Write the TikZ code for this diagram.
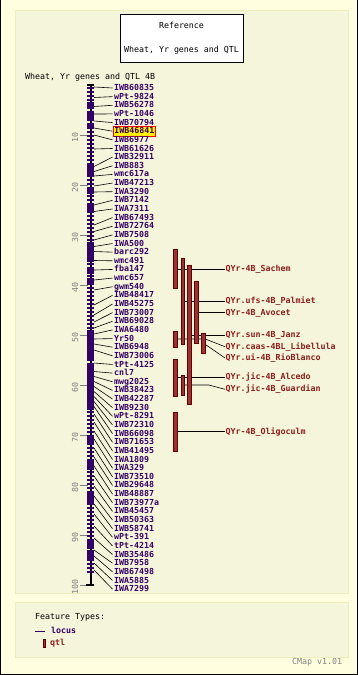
\documentclass[tikz,border=0pt]{standalone}
\usepackage{fontspec}
\usepackage{tikz}
\usetikzlibrary{positioning}
\newfontfamily\cmapmono{DejaVu Sans Mono}
\newcommand{\cmapfont}{\cmapmono\fontsize{8.3}{10}\selectfont}
\newcommand{\cmaplabelfont}{\cmapmono\bfseries\fontsize{8.3}{10}\selectfont}
\definecolor{cmpurple}{RGB}{51,0,102}
\definecolor{cmqtl}{RGB}{153,51,51}
\definecolor{cmqtledge}{RGB}{102,0,0}
\definecolor{cmqtltext}{RGB}{140,30,30}
\definecolor{cmouter}{RGB}{255,255,224}
\definecolor{cmpanel}{RGB}{245,245,220}
\definecolor{cmpanelline}{RGB}{238,238,187}
\definecolor{cmgrey}{RGB}{128,128,128}
\tikzstyle{panel} = [fill=cmpanel, draw=cmpanelline, line width=1pt]
\tikzstyle{titlebox} = [rectangle, fill=white, draw=black, line width=1pt, minimum width=123pt, minimum height=48pt, align=center, font=\cmapfont]
\tikzstyle{locuslabel} = [anchor=west, inner sep=1.5pt, text height=6.1pt, text depth=1pt, text=cmpurple, font=\cmaplabelfont]
\tikzstyle{hilabel} = [locuslabel, fill=yellow, draw=red, line width=0.9pt]
\tikzstyle{locustick} = [cmpurple, line width=1.5pt]
\tikzstyle{link} = [black, line width=0.6pt]
\tikzstyle{qtlbar} = [rectangle, fill=cmqtl, draw=cmqtledge, line width=0.5pt, minimum width=3.5pt, inner sep=0pt]
\tikzstyle{qtllabel} = [anchor=west, inner sep=0.5pt, text height=6.1pt, text depth=1pt, text=cmqtltext, font=\cmaplabelfont]
\pgfdeclarelayer{bg}
\pgfdeclarelayer{links}
\pgfsetlayers{bg,links,main}
\begin{document}
\begin{tikzpicture}[x=1pt, y=-1pt]
\useasboundingbox (0,0) rectangle (358,675);
% Background
\begin{pgfonlayer}{bg}
\fill[cmouter] (0,0) rectangle (358,675);
\draw[black, line width=1pt] (0.5,0) -- (0.5,674.5) -- (357.5,674.5) -- (357.5,0);
\draw[panel] (15,10) rectangle (348,593);
\draw[panel] (15,602) rectangle (348,657);
\end{pgfonlayer}

% Titles
\node[titlebox] (ref) at (181.5,38) {Reference\\[14pt]Wheat, Yr genes and QTL};
\node[anchor=west, inner sep=0pt, font=\cmapfont] (maptitle) at (25,77) {Wheat, Yr genes and QTL 4B};

% Scale
\foreach \s in {10,20,...,100} {
  \draw[cmgrey, line width=0.8pt] (80,{85+5*\s}) -- (88,{85+5*\s});
  \node[rotate=90, text=cmgrey, font=\cmapfont, inner sep=0pt] (sc\s) at (75,{87+5*\s}) {\s};
}

% Chromosome
\draw[black, line width=2pt] (90.5,85) -- (90.5,585);
\draw[black, line width=1.4pt] (87,85) -- (94,85);
\draw[black, line width=1.4pt] (86,585) -- (94,585);
\foreach \t in {0.6,1.4,...,97.4}
  \draw[locustick] (87,{85+5*\t}) -- (94,{85+5*\t});
\foreach \a/\b in {3.4/4.6, 5.4/6.8, 7.6/8.4, 16/18.4, 20.4/21.8, 24/25.4, 31.4/35.4, 36.6/37.8, 38.6/39.6, 49/55.2, 55.9/65, 70.4/71.6, 75/77, 81.6/84, 91/92.4, 93/95}
  \fill[cmpurple] (87,{85+5*\a}) rectangle (94,{85+5*\b});

% Loci
\foreach \lab/\pos/\sty [count=\i] in {IWB60835/0.4/locuslabel, wPt-9824/2.5/locuslabel, IWB56278/4.3/locuslabel, wPt-1046/5.8/locuslabel, IWB70794/7.2/locuslabel, IWB46841/8.6/hilabel, IWB6977/10/locuslabel, IWB61626/12.8/locuslabel, IWB32911/16.3/locuslabel, IWB883/17.3/locuslabel, wmc617a/18.2/locuslabel, IWB47213/20.2/locuslabel, IWA3290/21.4/locuslabel, IWB7142/24/locuslabel, IWA7311/25.3/locuslabel, IWB67493/28/locuslabel, IWB72764/29.3/locuslabel, IWB7508/31/locuslabel, IWA500/32.3/locuslabel, barc292/33.3/locuslabel, wmc491/35.1/locuslabel, fba147/37/locuslabel, wmc657/39/locuslabel, gwm540/41/locuslabel, IWB48417/44/locuslabel, IWB45275/46/locuslabel, IWB73007/47.4/locuslabel, IWB69028/48.6/locuslabel, IWA6480/49.8/locuslabel, Yr50/50.8/locuslabel, IWB6948/51.8/locuslabel, IWB73006/53/locuslabel, tPt-4125/55.6/locuslabel, cnl7/57.3/locuslabel, mwg2025/58.3/locuslabel, IWB38423/59.3/locuslabel, IWB42287/60.3/locuslabel, IWB9230/61.3/locuslabel, wPt-8291/62.3/locuslabel, IWB72310/63.3/locuslabel, IWB66098/64.3/locuslabel, IWB71653/65.8/locuslabel, IWB41495/67.4/locuslabel, IWA1809/69.2/locuslabel, IWA329/70.8/locuslabel, IWB73510/72.6/locuslabel, IWB29648/74.4/locuslabel, IWB48887/76.2/locuslabel, IWB73977a/78.2/locuslabel, IWB45457/80.2/locuslabel, IWB50363/82.2/locuslabel, IWB58741/83.8/locuslabel, wPt-391/85.8/locuslabel, tPt-4214/88.2/locuslabel, IWB35486/90.6/locuslabel, IWB7958/93/locuslabel, IWB67498/94.2/locuslabel, IWA5885/95.6/locuslabel, IWA7299/97/locuslabel} {
  \coordinate (l\i) at (94,{85+5*\pos});
  \node[\sty] (m\i) at (112.5,{88+8.64*(\i-1)}) {\lab};
  \draw[link] (l\i) -- (m\i.west);
}

% QTL bars
\node[qtlbar, minimum height=39pt] (b1) at (175,269) {};
\node[qtlbar, minimum height=86pt] (b2) at (182.8,301) {};
\node[qtlbar, minimum height=139pt] (b3) at (189,335) {};
\node[qtlbar, minimum height=62pt] (b4) at (196,312.7) {};
\node[qtlbar, minimum height=20pt] (b5) at (203.3,343) {};
\node[qtlbar, minimum height=16pt] (b6) at (175,339) {};
\node[qtlbar, minimum height=37pt] (b7) at (175,377.3) {};
\node[qtlbar, minimum height=20pt] (b8) at (182.8,385) {};
\node[qtlbar, minimum height=39pt] (b9) at (175,431.7) {};

% QTL labels
\node[qtllabel] (tsachem) at (225,269) {QYr-4B\_Sachem};
\node[qtllabel] (tpalmiet) at (225,301) {QYr.ufs-4B\_Palmiet};
\node[qtllabel] (tavocet) at (225,312.7) {QYr-4B\_Avocet};
\node[qtllabel] (tjanz) at (225,335) {QYr.sun-4B\_Janz};
\node[qtllabel] (tlib) at (225,346.7) {QYr.caas-4BL\_Libellula};
\node[qtllabel] (trio) at (225,358) {QYr.ui-4B\_RioBlanco};
\node[qtllabel] (talcedo) at (225,377.3) {QYr.jic-4B\_Alcedo};
\node[qtllabel] (tguard) at (225,389.3) {QYr.jic-4B\_Guardian};
\node[qtllabel] (toligo) at (225,431.7) {QYr-4B\_Oligoculm};

\begin{pgfonlayer}{links}
\draw[link] (b1.center) -- (tsachem.west);
\draw[link] (b2.center) -- (tpalmiet.west);
\draw[link] (b4.center) -- (tavocet.west);
\draw[link] (b3.center) -- (tjanz.west);
\draw[link] (b6.center) -- (b6.center -| b5.east) -- (tlib.west);
\draw[link] (b5.center) -- (trio.west);
\draw[link] (b7.center) -- (talcedo.west);
\draw[link] (b8.center) -- ++(26,0) -- (tguard.west);
\draw[link] (b9.center) -- (toligo.west);
\end{pgfonlayer}

% Legend
\node[anchor=west, inner sep=0pt, font=\cmapfont] (ftypes) at (35,617) {Feature Types:};
\node[locuslabel] (klocus) at (49.5,631) {locus};
\draw[cmpurple, line width=0.9pt] ([xshift=-14.5pt]klocus.west) -- ([xshift=-4.5pt]klocus.west);
\node[qtlbar, minimum height=8pt, minimum width=2.5pt] (kbar) at (44,643) {};
\node[qtllabel] (kqtl) at (49.5,643) {qtl};
\node[anchor=west, inner sep=0pt, text=cmgrey, font=\cmapfont] (ver) at (292,662) {CMap v1.01};
\end{tikzpicture}
\end{document}
